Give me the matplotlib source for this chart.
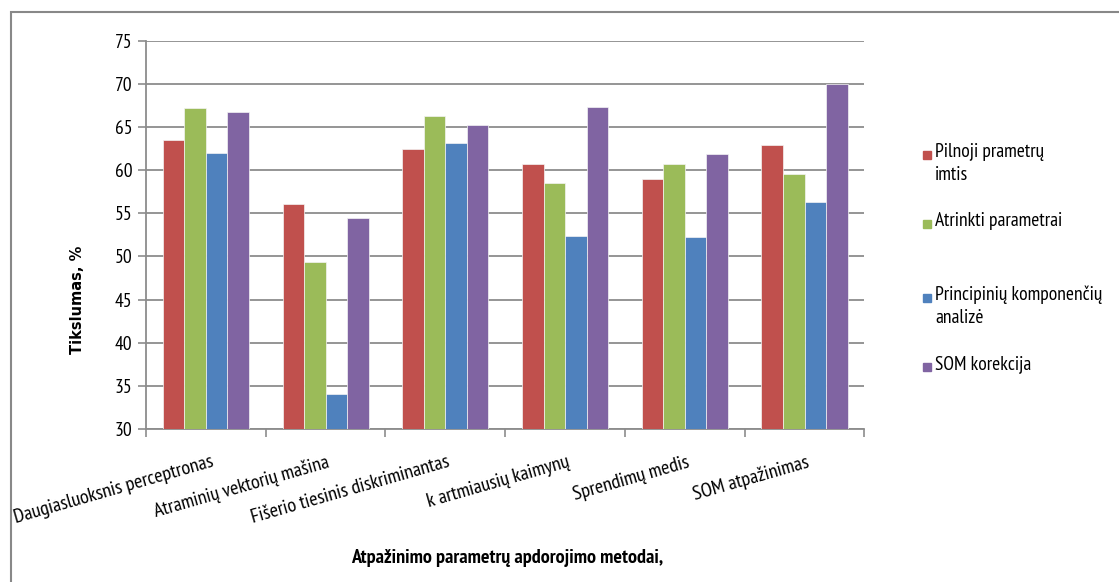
import numpy as np
import matplotlib.pyplot as plt
from matplotlib.patches import Rectangle
from matplotlib import font_manager

# methods on the x axis
methods = ['Daugiasluoksnis perceptronas', 'Atraminių vektorių mašina',
           'Fišerio tiesinis diskriminantas', 'k artmiausių kaimynų',
           'Sprendimų medis', 'SOM atpažinimas']

# accuracy for each parameter set, %
pilnoji = [63.5, 56.1, 62.4, 60.7, 59.0, 62.9]
atrinkti = [67.2, 49.4, 66.3, 58.5, 60.7, 59.6]
pca = [62.0, 34.0, 63.2, 52.4, 52.2, 56.3]
som_kor = [66.7, 54.4, 65.2, 67.3, 61.9, 70.0]

series = [pilnoji, atrinkti, pca, som_kor]
labels = ['Pilnoji prametrų\nimtis', 'Atrinkti parametrai',
          'Principinių komponenčių\nanalizė', 'SOM korekcija']
colors = ['#c0504d', '#9bbb59', '#4f81bd', '#8064a2']

installed = {f.name for f in font_manager.fontManager.ttflist}


def pick(*cands):
    for c in cands:
        if c in installed:
            return c
    return 'DejaVu Sans'


narrow = pick('PT Sans Narrow', 'Open Sans Condensed', 'Roboto Condensed',
              'Archivo Narrow', 'Carlito', 'Liberation Sans')
plt.rcParams['font.family'] = [narrow, 'DejaVu Sans']

fig = plt.figure(figsize=(11.19, 5.82), dpi=100)
ax = fig.add_axes([0.1305, 0.263, 0.642, 0.667])

x = np.arange(len(methods))
w = 0.18
for i, (vals, c) in enumerate(zip(series, colors)):
    ax.bar(x + (i - 1.5) * w, np.array(vals) - 30, bottom=30, width=w,
           color=c, zorder=3, edgecolor='#f4f4f4', linewidth=0.5)

ax.set_ylim(30, 75)
ax.set_xlim(-0.5, len(methods) - 0.5)
ax.set_yticks(range(30, 76, 5))
ax.yaxis.grid(True, color='#8c8c8c', linewidth=1.3, zorder=0)
ax.tick_params(axis='y', length=6, width=1.2, color='#8c8c8c', labelsize=14, pad=4)
ax.set_xticks(np.arange(-0.5, len(methods), 1.0))
ax.set_xticklabels([])
ax.tick_params(axis='x', length=6, width=1.2, color='#8c8c8c', direction='out')

for s in ['top', 'right']:
    ax.spines[s].set_visible(False)
for s in ['left', 'bottom']:
    ax.spines[s].set_color('#8c8c8c')
    ax.spines[s].set_linewidth(1.3)

# rotated category names, nudged right if they run off the figure
fig.canvas.draw()
r = fig.canvas.get_renderer()
for xi, name in zip(x, methods):
    t = ax.text(xi + 0.01, 27.2, name, rotation=16, rotation_mode='anchor',
                ha='right', va='top', fontsize=14.5)
    bb = t.get_window_extent(renderer=r)
    if bb.x0 < 12:
        dx = (12 - bb.x0) / (ax.get_window_extent().width / len(methods))
        t.set_x(xi + 0.01 + dx)

fig.text(77 / 1119, 1 - 300 / 582, 'Tikslumas, %', rotation=90, ha='center',
         va='center', fontsize=10.5, fontweight='bold', family='DejaVu Sans')
fig.text(507 / 1119, 1 - 558 / 582, 'Atpažinimo parametrų apdorojimo metodai,',
         ha='center', va='center', fontsize=14.5, fontweight='bold')

# legend entries
leg_y = [155, 224, 298, 367]
for yy, lab, c in zip(leg_y, labels, colors):
    fig.patches.append(Rectangle((923 / 1119, 1 - (yy + 4) / 582), 8 / 1119, 8 / 582,
                                 transform=fig.transFigure, color=c))
    fig.text(935 / 1119, 1 - (yy - 12) / 582, lab, ha='left', va='top',
             fontsize=14, linespacing=1.35)

# outer chart frame
fig.patches.append(Rectangle((11 / 1119, -0.1), 1.2, 1.1 - 12 / 582,
                             transform=fig.transFigure, fill=False,
                             edgecolor='#888888', linewidth=1.5))

fig.savefig('out.png', dpi=100)
